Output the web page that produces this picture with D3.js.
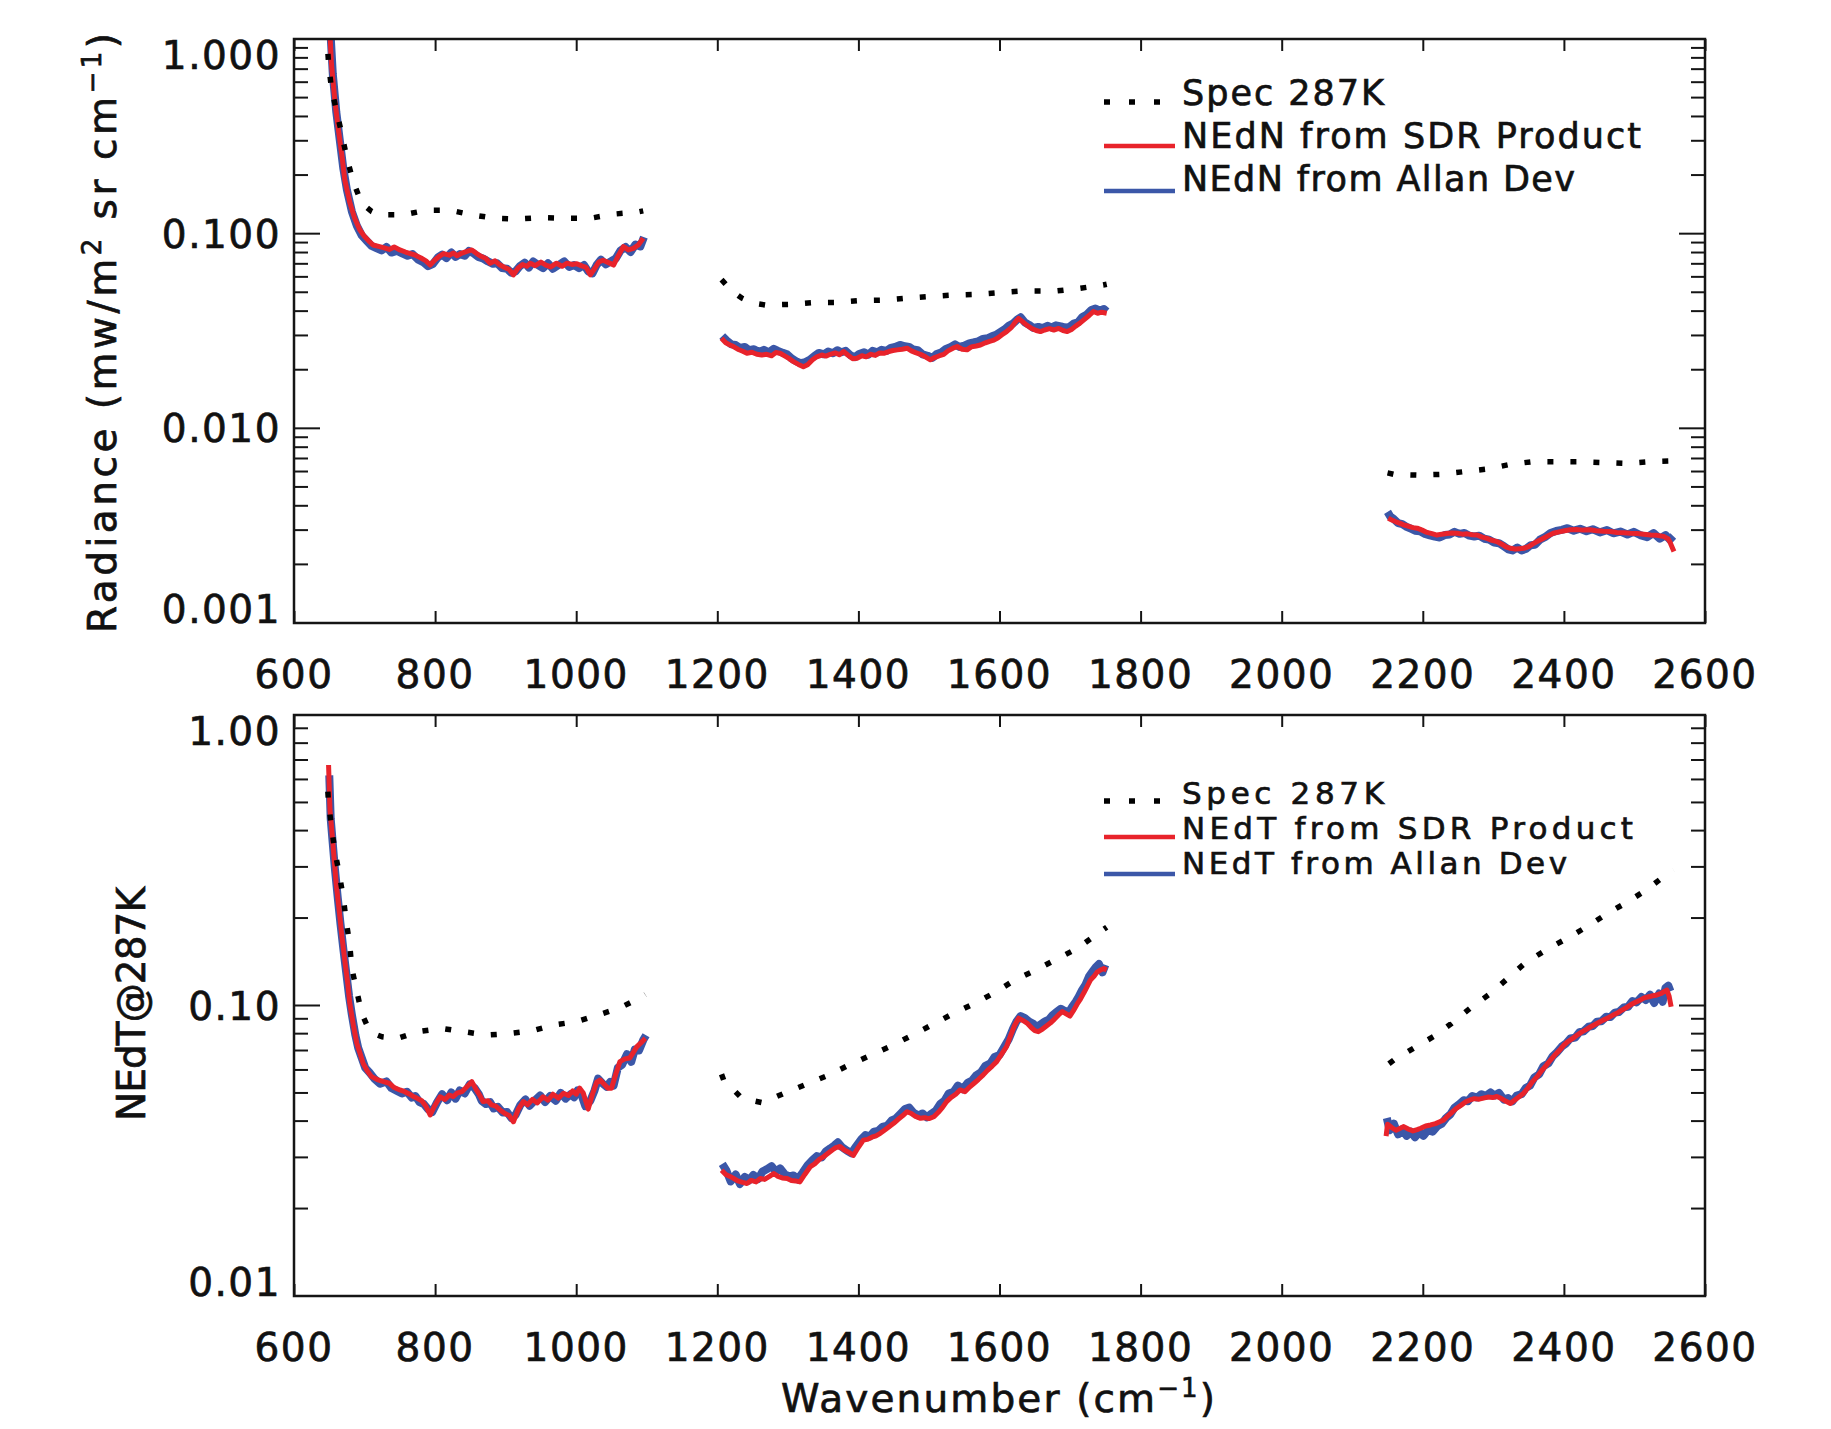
<!DOCTYPE html>
<html>
<head>
<meta charset="utf-8">
<script src="https://cdn.jsdelivr.net/npm/d3@7"></script>
<style>
  body { margin: 0; background: #fff; }
  svg { display: block; }
  text { font-family: "DejaVu Sans", sans-serif; fill: #111; stroke: #111; stroke-width: 0.7px; }
</style>
</head>
<body>
<svg id="chart" width="1831" height="1429"></svg>
<script>
// ---- Axis ticks and labels ----
const wavenumberTicks = [600, 800, 1000, 1200, 1400, 1600, 1800, 2000, 2200, 2400, 2600];
const radianceTicks = [0.001, 0.01, 0.1, 1];
const radianceTickLabels = ["0.001", "0.010", "0.100", "1.000"];
const nedtTicks = [0.01, 0.1, 1];
const nedtTickLabels = ["0.01", "0.10", "1.00"];
const radianceLegend = ["Spec 287K", "NEdN from SDR Product", "NEdN from Allan Dev"];
const nedtLegend = ["Spec 287K", "NEdT from SDR Product", "NEdT from Allan Dev"];

// ---- Radiance noise (mw/m^2 sr cm^-1) vs wavenumber; [wn, null] splits the bands ----
const radianceSpec = [
  [646,1.1],[649,0.75],[653,0.558],[660,0.432],[668,0.321],[675,0.244],[684,0.185],[696,0.143],[710,0.13],
  [720,0.125],[755,0.125],[788,0.132],[821,0.132],[852,0.125],[885,0.12],[918,0.119],[951,0.121],[984,0.12],
  [1020,0.12],[1053,0.126],[1086,0.129],[1095,0.131],[1150,null],
  [1206,0.058],[1220,0.051],[1235,0.0466],[1250,0.044],[1268,0.043],[1301,0.0433],[1334,0.0442],[1367,0.0443],
  [1400,0.0453],[1433,0.0455],[1466,0.0466],[1499,0.0475],[1535,0.0484],[1568,0.0488],[1601,0.0498],[1634,0.0508],
  [1667,0.0508],[1681,0.0508],[1714,0.0524],[1747,0.0545],[1752,0.055],[1950,null],
  [2150,0.0059],[2159,0.0058],[2192,0.00575],[2225,0.0058],[2260,0.006],[2291,0.00618],[2324,0.00653],[2355,0.00674],
  [2388,0.00674],[2421,0.00674],[2457,0.00667],[2490,0.0066],[2523,0.00674],[2555,0.0068]
];
const radianceSdr = [
  [650,1.25],[653,0.75],[658,0.48],[663,0.341],[668,0.25],[672,0.189],[679,0.145],[686,0.12],[693,0.105],[700,0.0966],
  [707,0.091],[712,0.0875],[720,0.086],[728,0.0845],[735,0.083],[742,0.0855],[750,0.0825],[758,0.0805],[765,0.079],
  [772,0.0775],[780,0.075],[787,0.0725],[793,0.069],[800,0.0735],[807,0.077],[812,0.079],[820,0.0775],[826,0.0795],
  [831,0.077],[838,0.0795],[845,0.081],[852,0.0825],[858,0.0795],[865,0.0765],[872,0.0745],[878,0.0705],[885,0.0725],
  [892,0.069],[898,0.0672],[905,0.0655],[911,0.0614],[917,0.0662],[924,0.0695],[930,0.068],[935,0.0705],[942,0.0685],
  [950,0.0715],[957,0.069],[964,0.0675],[972,0.0705],[980,0.068],[987,0.0705],[994,0.0695],[1001,0.07],[1008,0.0683],
  [1014,0.0672],[1020,0.0614],[1026,0.066],[1032,0.0715],[1038,0.073],[1045,0.0712],[1053,0.069],[1060,0.0775],
  [1067,0.0858],[1074,0.0825],[1081,0.084],[1088,0.0875],[1095,0.0947],[1150,null],
  [1206,0.029],[1212,0.0275],[1218,0.0268],[1223,0.0263],[1229,0.0255],[1236,0.0249],[1242,0.0243],[1249,0.0246],
  [1256,0.024],[1263,0.0238],[1270,0.024],[1277,0.0236],[1283,0.0245],[1289,0.0243],[1296,0.0235],[1302,0.0228],
  [1308,0.022],[1315,0.0213],[1322,0.0207],[1328,0.0212],[1335,0.0225],[1341,0.0233],[1348,0.0238],[1354,0.0235],
  [1360,0.024],[1367,0.0244],[1373,0.0239],[1379,0.0248],[1385,0.0238],[1392,0.0228],[1398,0.0229],[1405,0.0236],
  [1411,0.0233],[1417,0.024],[1424,0.0237],[1430,0.0244],[1436,0.0243],[1443,0.0248],[1449,0.0251],[1455,0.0253],
  [1462,0.0255],[1469,0.0258],[1475,0.025],[1481,0.0245],[1488,0.024],[1495,0.0233],[1502,0.0225],[1508,0.0231],
  [1515,0.0236],[1521,0.024],[1527,0.025],[1534,0.0258],[1540,0.0263],[1547,0.0255],[1554,0.0253],[1560,0.0262],
  [1567,0.0265],[1573,0.0268],[1580,0.0275],[1586,0.028],[1592,0.0284],[1598,0.0292],[1604,0.0303],[1610,0.0314],
  [1617,0.033],[1622,0.035],[1627,0.0367],[1633,0.0352],[1639,0.0338],[1645,0.0327],[1652,0.0318],[1658,0.0314],
  [1664,0.032],[1671,0.0325],[1677,0.032],[1684,0.0326],[1690,0.0318],[1696,0.0314],[1702,0.0322],[1708,0.0335],
  [1714,0.0347],[1720,0.0362],[1727,0.038],[1733,0.0398],[1739,0.039],[1745,0.0395],[1752,0.039],[1950,null],
  [2151,0.00345],[2156,0.00338],[2162,0.00331],[2168,0.00325],[2174,0.00318],[2180,0.00314],[2186,0.00309],
  [2192,0.00307],[2199,0.003],[2206,0.00292],[2213,0.00288],[2220,0.00283],[2227,0.00286],[2234,0.00288],[2241,0.0029],
  [2249,0.00289],[2256,0.00286],[2263,0.00287],[2270,0.00284],[2277,0.00283],[2284,0.00276],[2291,0.00272],
  [2298,0.00266],[2305,0.00262],[2312,0.00254],[2318,0.00246],[2324,0.00242],[2331,0.0024],[2337,0.00241],
  [2343,0.00242],[2350,0.00247],[2356,0.00255],[2362,0.00262],[2369,0.0027],[2377,0.0028],[2385,0.00289],
  [2393,0.00294],[2401,0.00298],[2409,0.00301],[2418,0.00302],[2427,0.003],[2437,0.00301],[2446,0.00298],
  [2456,0.00296],[2466,0.00295],[2475,0.00292],[2485,0.00291],[2494,0.00289],[2504,0.00288],[2513,0.00286],
  [2523,0.00283],[2532,0.00282],[2542,0.00278],[2548,0.0027],[2551,0.00257],[2556,0.00233]
];
const radianceAllan = [
  [651,1.2],[655,0.66],[660,0.42],[665,0.3],[670,0.215],[675,0.168],[682,0.13],[689,0.11],[696,0.098],[703,0.092],
  [710,0.0865],[716,0.0845],[724,0.082],[731,0.0855],[738,0.08],[746,0.0815],[754,0.079],[761,0.077],[768,0.0785],
  [776,0.0735],[783,0.0715],[790,0.068],[797,0.07],[804,0.0755],[810,0.078],[816,0.075],[823,0.08],[829,0.076],
  [835,0.0785],[842,0.077],[848,0.0815],[855,0.079],[861,0.076],[868,0.0745],[875,0.072],[882,0.07],[888,0.0705],
  [895,0.0665],[902,0.066],[908,0.063],[914,0.064],[920,0.068],[927,0.071],[933,0.067],[939,0.072],[946,0.069],
  [953,0.0665],[960,0.0705],[967,0.066],[975,0.069],[983,0.072],[990,0.0675],[997,0.069],[1004,0.0665],[1011,0.069],
  [1017,0.064],[1023,0.0625],[1029,0.069],[1035,0.0735],[1042,0.0695],[1049,0.072],[1056,0.0745],[1063,0.082],
  [1070,0.0855],[1077,0.0805],[1084,0.088],[1091,0.086],[1096,0.096],[1150,null],
  [1207,0.0298],[1213,0.0283],[1220,0.027],[1226,0.0268],[1232,0.0259],[1239,0.0262],[1245,0.0252],[1252,0.0255],
  [1259,0.0247],[1266,0.0253],[1273,0.0246],[1280,0.0256],[1286,0.025],[1293,0.0244],[1299,0.024],[1305,0.0229],
  [1312,0.0221],[1318,0.0216],[1325,0.0219],[1331,0.0225],[1338,0.0236],[1344,0.0244],[1351,0.024],[1357,0.0248],
  [1364,0.0243],[1370,0.0252],[1376,0.0246],[1382,0.025],[1389,0.0237],[1395,0.0232],[1401,0.0241],[1408,0.0246],
  [1414,0.0239],[1420,0.025],[1427,0.0246],[1433,0.0253],[1440,0.025],[1446,0.0259],[1452,0.0262],[1459,0.0268],
  [1466,0.0264],[1472,0.0262],[1478,0.0254],[1484,0.0252],[1491,0.024],[1498,0.0236],[1505,0.023],[1511,0.0241],
  [1518,0.0246],[1524,0.0256],[1531,0.0262],[1537,0.027],[1543,0.0262],[1550,0.0266],[1557,0.0273],[1563,0.0276],
  [1570,0.028],[1576,0.0288],[1583,0.029],[1589,0.0297],[1595,0.0302],[1601,0.0312],[1607,0.0322],[1613,0.0336],
  [1619,0.0345],[1625,0.0362],[1630,0.0372],[1636,0.035],[1642,0.034],[1648,0.0328],[1655,0.0332],[1661,0.0327],
  [1668,0.0336],[1674,0.033],[1680,0.0338],[1687,0.0334],[1693,0.0329],[1699,0.0332],[1705,0.0345],[1711,0.035],
  [1717,0.0372],[1724,0.0385],[1730,0.0405],[1736,0.0412],[1742,0.0402],[1748,0.041],[1752,0.0398],[1950,null],
  [2150,0.00372],[2154,0.00352],[2159,0.00342],[2165,0.00326],[2171,0.00322],[2177,0.00312],[2183,0.00305],
  [2189,0.00298],[2196,0.00296],[2203,0.00287],[2210,0.00282],[2217,0.00278],[2224,0.00275],[2231,0.00283],
  [2238,0.00285],[2245,0.00294],[2252,0.00287],[2259,0.0029],[2266,0.00281],[2273,0.00278],[2280,0.00281],
  [2287,0.00271],[2294,0.00268],[2301,0.00259],[2308,0.00257],[2315,0.00248],[2321,0.00239],[2327,0.00236],
  [2334,0.00244],[2340,0.00236],[2346,0.0024],[2353,0.00251],[2359,0.00252],[2366,0.00268],[2373,0.00276],
  [2381,0.0029],[2389,0.00297],[2397,0.00301],[2405,0.00307],[2414,0.00298],[2423,0.00305],[2432,0.00296],
  [2441,0.00303],[2451,0.00292],[2461,0.003],[2470,0.00289],[2480,0.00295],[2490,0.00285],[2499,0.00294],
  [2508,0.00283],[2518,0.00276],[2527,0.0029],[2536,0.00271],[2544,0.00283],[2550,0.00268],[2555,0.0028]
];

// ---- NEdT at 287 K (K) vs wavenumber ----
const nedtSpec = [
  [648,0.545],[649,0.497],[653,0.413],[658,0.339],[664,0.285],[670,0.234],[674,0.195],[679,0.162],[682,0.134],
  [689,0.112],[696,0.094],[704,0.085],[712,0.0802],[725,0.078],[746,0.077],[776,0.0813],[809,0.0834],[840,0.0813],
  [873,0.0791],[904,0.08],[937,0.0818],[968,0.0857],[1001,0.088],[1031,0.0927],[1062,0.0982],[1093,0.107],
  [1098,0.109],[1150,null],
  [1206,0.058],[1209,0.0554],[1235,0.0479],[1264,0.0463],[1295,0.0499],[1324,0.0533],[1355,0.0572],[1385,0.0621],
  [1416,0.0672],[1447,0.0727],[1475,0.0787],[1506,0.0862],[1535,0.094],[1565,0.1018],[1594,0.111],[1622,0.1225],
  [1653,0.133],[1681,0.1445],[1710,0.157],[1738,0.176],[1752,0.186],[1950,null],
  [2152,0.063],[2159,0.0649],[2187,0.0713],[2215,0.0781],[2241,0.0869],[2267,0.0978],[2296,0.11],[2322,0.125],
  [2345,0.14],[2374,0.155],[2404,0.17],[2433,0.187],[2461,0.207],[2490,0.227],[2518,0.251],[2544,0.281],[2555,0.293]
];
const nedtSdr = [
  [649,0.673],[651,0.471],[654,0.39],[657,0.317],[660,0.26],[664,0.213],[668,0.172],[672,0.143],[676,0.12],[679,0.102],
  [684,0.086],[689,0.0741],[694,0.068],[698,0.0632],[704,0.0595],[710,0.0569],[718,0.0556],[727,0.0547],[735,0.054],
  [742,0.0522],[750,0.0512],[757,0.0505],[764,0.0495],[770,0.0485],[774,0.048],[781,0.047],[787,0.045],[793,0.042],
  [799,0.045],[807,0.0485],[814,0.0475],[820,0.0492],[826,0.0486],[831,0.0499],[838,0.0505],[845,0.0525],[852,0.0547],
  [859,0.051],[864,0.0488],[868,0.0467],[875,0.047],[880,0.0455],[886,0.045],[892,0.0437],[899,0.0425],[905,0.0418],
  [911,0.0398],[918,0.044],[925,0.0467],[931,0.0455],[938,0.0475],[945,0.0462],[953,0.0485],[960,0.0472],[967,0.0495],
  [975,0.048],[982,0.0499],[989,0.049],[995,0.0508],[1000,0.0495],[1005,0.0519],[1010,0.05],[1017,0.044],[1023,0.0495],
  [1029,0.0545],[1034,0.0554],[1040,0.0535],[1045,0.0519],[1050,0.0519],[1056,0.058],[1062,0.0641],[1069,0.0655],
  [1076,0.066],[1081,0.069],[1086,0.0722],[1092,0.0745],[1098,0.0771],[1150,null],
  [1206,0.0271],[1212,0.0262],[1218,0.0258],[1223,0.0254],[1229,0.0249],[1236,0.0246],[1242,0.0244],[1248,0.025],
  [1255,0.0247],[1261,0.0254],[1267,0.0252],[1274,0.0258],[1280,0.0264],[1286,0.0258],[1292,0.0255],[1299,0.0254],
  [1305,0.025],[1311,0.0249],[1317,0.0247],[1324,0.0262],[1332,0.0279],[1338,0.0285],[1345,0.0296],[1351,0.0302],
  [1357,0.031],[1363,0.0318],[1368,0.0324],[1374,0.0327],[1380,0.0318],[1387,0.0312],[1393,0.0305],[1400,0.0325],
  [1407,0.0344],[1413,0.0346],[1419,0.0352],[1425,0.0356],[1431,0.0363],[1437,0.0372],[1444,0.0383],[1450,0.0393],
  [1456,0.0405],[1463,0.0418],[1469,0.0431],[1475,0.0425],[1481,0.0415],[1488,0.0409],[1494,0.0411],[1500,0.0408],
  [1507,0.0414],[1513,0.0428],[1519,0.0445],[1525,0.0467],[1531,0.0482],[1538,0.0495],[1544,0.0512],[1551,0.0505],
  [1558,0.0525],[1564,0.054],[1570,0.0556],[1577,0.0577],[1583,0.0598],[1590,0.062],[1596,0.0641],[1603,0.068],
  [1610,0.0722],[1616,0.079],[1621,0.085],[1627,0.0904],[1633,0.0888],[1639,0.087],[1645,0.084],[1650,0.082],
  [1655,0.0813],[1661,0.083],[1667,0.0852],[1672,0.087],[1678,0.0898],[1684,0.093],[1689,0.0953],[1695,0.0935],
  [1700,0.092],[1705,0.0962],[1710,0.101],[1714,0.1045],[1720,0.111],[1724,0.116],[1729,0.1225],[1734,0.126],
  [1738,0.13],[1743,0.1325],[1748,0.134],[1752,0.1325],[1950,null],
  [2148,0.0355],[2150,0.039],[2156,0.038],[2162,0.0372],[2168,0.0378],[2173,0.0383],[2180,0.0375],[2186,0.037],
  [2192,0.0374],[2197,0.0378],[2204,0.0385],[2211,0.0388],[2218,0.0392],[2224,0.0398],[2230,0.0404],[2236,0.0418],
  [2242,0.043],[2248,0.0443],[2255,0.0455],[2261,0.0466],[2267,0.0473],[2273,0.0478],[2280,0.0476],[2286,0.048],
  [2292,0.0484],[2299,0.0482],[2305,0.0486],[2311,0.0479],[2318,0.0468],[2324,0.046],[2330,0.0472],[2337,0.0486],
  [2343,0.0499],[2349,0.052],[2355,0.0545],[2362,0.0569],[2368,0.0595],[2375,0.0622],[2381,0.0649],[2387,0.0675],
  [2394,0.0702],[2400,0.0731],[2406,0.0752],[2413,0.0772],[2419,0.0791],[2425,0.081],[2432,0.0828],[2438,0.0845],
  [2444,0.086],[2450,0.0876],[2456,0.0891],[2463,0.0908],[2469,0.0925],[2475,0.094],[2481,0.096],[2488,0.0982],
  [2494,0.1004],[2500,0.1022],[2507,0.104],[2513,0.106],[2519,0.107],[2526,0.108],[2532,0.1087],[2538,0.11],
  [2543,0.112],[2546,0.113],[2549,0.108],[2552,0.099]
];
const nedtAllan = [
  [650,0.62],[652,0.44],[655,0.36],[658,0.295],[662,0.235],[666,0.19],[670,0.156],[674,0.13],[678,0.108],[682,0.093],
  [687,0.079],[691,0.0715],[696,0.066],[701,0.061],[707,0.0588],[714,0.056],[722,0.0538],[731,0.0548],[738,0.052],
  [746,0.0508],[753,0.0498],[760,0.0505],[767,0.0482],[772,0.0488],[778,0.0465],[784,0.0458],[790,0.044],[796,0.043],
  [803,0.0465],[810,0.0495],[817,0.0472],[823,0.0502],[829,0.0478],[835,0.051],[842,0.0498],[849,0.0535],[856,0.052],
  [862,0.0495],[866,0.047],[872,0.0458],[878,0.0465],[883,0.0442],[889,0.0448],[896,0.0428],[902,0.043],[908,0.041],
  [914,0.042],[921,0.0455],[928,0.0475],[934,0.0452],[941,0.047],[949,0.049],[956,0.0465],[963,0.0488],[971,0.047],
  [978,0.05],[985,0.0478],[992,0.0495],[997,0.0483],[1002,0.051],[1008,0.0488],[1013,0.045],[1020,0.047],[1026,0.051],
  [1031,0.056],[1037,0.054],[1043,0.0525],[1048,0.0545],[1053,0.053],[1059,0.061],[1065,0.0625],[1072,0.068],
  [1078,0.064],[1083,0.0705],[1089,0.07],[1095,0.076],[1099,0.079],[1150,null],
  [1207,0.0285],[1213,0.027],[1219,0.0248],[1226,0.0262],[1232,0.0243],[1239,0.0257],[1245,0.025],[1251,0.0261],
  [1258,0.0253],[1264,0.0268],[1270,0.0273],[1277,0.028],[1283,0.0268],[1289,0.0275],[1296,0.0262],[1302,0.0258],
  [1308,0.026],[1314,0.0252],[1321,0.0266],[1328,0.0282],[1335,0.0294],[1341,0.0303],[1348,0.03],[1354,0.0315],
  [1360,0.0322],[1366,0.033],[1371,0.0338],[1377,0.0325],[1384,0.0316],[1390,0.031],[1397,0.0328],[1404,0.0346],
  [1410,0.0358],[1416,0.0354],[1422,0.0368],[1428,0.037],[1434,0.0382],[1441,0.0386],[1447,0.0402],[1453,0.0408],
  [1460,0.0425],[1466,0.044],[1472,0.0445],[1478,0.0428],[1485,0.0418],[1491,0.0425],[1497,0.0412],[1504,0.0425],
  [1510,0.0435],[1516,0.0458],[1522,0.047],[1528,0.0498],[1535,0.0505],[1541,0.053],[1548,0.0515],[1555,0.0542],
  [1561,0.0552],[1567,0.0575],[1574,0.059],[1580,0.062],[1587,0.0632],[1593,0.0665],[1600,0.0675],[1606,0.0715],
  [1613,0.0765],[1619,0.083],[1624,0.088],[1630,0.092],[1636,0.0905],[1642,0.088],[1648,0.0865],[1653,0.0842],
  [1658,0.086],[1664,0.088],[1670,0.0895],[1675,0.0925],[1681,0.095],[1687,0.0975],[1692,0.096],[1698,0.0945],
  [1703,0.099],[1708,0.103],[1712,0.107],[1717,0.113],[1722,0.118],[1727,0.126],[1732,0.131],[1736,0.135],
  [1741,0.139],[1746,0.13],[1750,0.138],[1950,null],
  [2149,0.041],[2153,0.0372],[2159,0.0392],[2165,0.036],[2171,0.0375],[2177,0.0356],[2183,0.0368],[2189,0.0352],
  [2195,0.0366],[2201,0.0356],[2207,0.0372],[2214,0.0368],[2221,0.0385],[2227,0.0392],[2233,0.041],[2239,0.0422],
  [2245,0.0445],[2252,0.0458],[2258,0.0472],[2264,0.0468],[2270,0.0488],[2277,0.0482],[2283,0.0495],[2289,0.0488],
  [2296,0.0502],[2302,0.049],[2308,0.05],[2315,0.0474],[2321,0.048],[2327,0.0468],[2333,0.049],[2340,0.0495],
  [2346,0.052],[2352,0.053],[2358,0.0565],[2365,0.058],[2371,0.0618],[2378,0.0632],[2384,0.0668],[2390,0.069],
  [2397,0.0722],[2403,0.074],[2409,0.077],[2416,0.0775],[2422,0.081],[2428,0.0815],[2435,0.0845],[2441,0.085],
  [2447,0.088],[2453,0.0882],[2460,0.0915],[2466,0.0912],[2472,0.0945],[2478,0.095],[2485,0.0985],[2491,0.099],
  [2497,0.1035],[2503,0.1025],[2510,0.107],[2516,0.1045],[2522,0.109],[2528,0.102],[2535,0.11],[2540,0.103],
  [2544,0.115],[2548,0.117],[2551,0.112]
];

// ---- Layout ----
const svg = d3.select("#chart");
const plotLeft = 294, plotRight = 1705;
const RED = "#e8232b", BLUE = "#3b57a8", INK = "#151515";

const x = d3.scaleLinear().domain([600, 2600]).range([plotLeft, plotRight]);

function drawPanel(p) {
  const y = d3.scaleLog().domain(p.domain).range([p.bottom, p.top]);
  const g = svg.append("g");
  const clipId = "clip-" + p.id;
  svg.append("clipPath").attr("id", clipId)
    .append("rect").attr("x", plotLeft).attr("y", p.top)
    .attr("width", plotRight - plotLeft).attr("height", p.bottom - p.top);

  const line = d3.line()
    .defined(d => d[1] != null)
    .x(d => x(d[0])).y(d => y(d[1]));

  const series = g.append("g").attr("clip-path", `url(#${clipId})`);
  series.append("path").datum(p.allan).attr("d", line)
    .attr("fill", "none").attr("stroke", BLUE).attr("stroke-width", 8).attr("stroke-linejoin", "round");
  series.append("path").datum(p.sdr).attr("d", line)
    .attr("fill", "none").attr("stroke", RED).attr("stroke-width", 5).attr("stroke-linejoin", "round");
  series.append("path").datum(p.spec).attr("d", line)
    .attr("fill", "none").attr("stroke", "#000").attr("stroke-width", 5.5)
    .attr("stroke-dasharray", "6 17");

  // Frame
  g.append("rect").attr("x", plotLeft).attr("y", p.top)
    .attr("width", plotRight - plotLeft).attr("height", p.bottom - p.top)
    .attr("fill", "none").attr("stroke", INK).attr("stroke-width", 2.5);

  // Wavenumber ticks (inward, bottom and top)
  g.append("g").attr("transform", `translate(0,${p.bottom})`)
    .call(d3.axisBottom(x).tickValues(wavenumberTicks).tickSize(-12).tickFormat(""))
    .call(a => a.select(".domain").remove())
    .selectAll("line").attr("stroke", INK).attr("stroke-width", 2);
  g.append("g").attr("transform", `translate(0,${p.top})`)
    .call(d3.axisTop(x).tickValues(wavenumberTicks).tickSize(-12).tickFormat(""))
    .call(a => a.select(".domain").remove())
    .selectAll("line").attr("stroke", INK).attr("stroke-width", 2);

  // Log ticks on both vertical sides
  const [lo, hi] = p.domain;
  const minor = [];
  for (let dec = lo; dec < hi * 0.999; dec *= 10) {
    for (let k = 2; k <= 9; k++) minor.push(dec * k);
  }
  const sides = [{x0: plotLeft, dir: 1}, {x0: plotRight, dir: -1}];
  sides.forEach(s => {
    g.selectAll(null).data(p.ticks).enter().append("line")
      .attr("x1", s.x0).attr("x2", s.x0 + s.dir * 26)
      .attr("y1", d => y(d)).attr("y2", d => y(d))
      .attr("stroke", INK).attr("stroke-width", 2);
    g.selectAll(null).data(minor).enter().append("line")
      .attr("x1", s.x0).attr("x2", s.x0 + s.dir * 14)
      .attr("y1", d => y(d)).attr("y2", d => y(d))
      .attr("stroke", INK).attr("stroke-width", 2);
  });

  // Tick labels
  g.selectAll(null).data(wavenumberTicks).enter().append("text")
    .attr("x", d => x(d)).attr("y", p.bottom + 65)
    .attr("text-anchor", "middle").attr("font-size", 39).attr("letter-spacing", 1.5)
    .text(d => d);
  g.selectAll(null).data(p.ticks).enter().append("text")
    .attr("x", 281)
    .attr("y", d => Math.max(p.top + 16, Math.min(p.bottom - 14, y(d))) + 14)
    .attr("text-anchor", "end").attr("font-size", 39).attr("letter-spacing", 1.5)
    .text((d, i) => p.tickLabels[i]);

  // Legend
  const lg = g.append("g");
  const rows = p.legend;
  lg.append("line").attr("x1", 1104).attr("x2", 1162)
    .attr("y1", p.legendY[0] - 3).attr("y2", p.legendY[0] - 3)
    .attr("stroke", "#000").attr("stroke-width", 5.5).attr("stroke-dasharray", "6 19");
  lg.append("line").attr("x1", 1104).attr("x2", 1175)
    .attr("y1", p.legendY[1] - 2).attr("y2", p.legendY[1] - 2)
    .attr("stroke", RED).attr("stroke-width", 4.5);
  lg.append("line").attr("x1", 1104).attr("x2", 1175)
    .attr("y1", p.legendY[2]).attr("y2", p.legendY[2])
    .attr("stroke", BLUE).attr("stroke-width", 4.5);
  lg.selectAll(null).data(rows).enter().append("text")
    .attr("x", 1182).attr("y", (d, i) => p.legendY[i])
    .attr("font-size", p.legendSize)
    .attr("textLength", (d, i) => p.legendWidths[i]).attr("lengthAdjust", "spacing")
    .text(d => d);
}

drawPanel({
  id: "radiance", top: 39, bottom: 623, domain: [0.001, 1],
  ticks: radianceTicks, tickLabels: radianceTickLabels,
  spec: radianceSpec, sdr: radianceSdr, allan: radianceAllan,
  legend: radianceLegend, legendY: [105, 148, 191], legendWidths: [202, 459, 393], legendSize: 35
});
drawPanel({
  id: "nedt", top: 715, bottom: 1296, domain: [0.01, 1],
  ticks: nedtTicks, tickLabels: nedtTickLabels,
  spec: nedtSpec, sdr: nedtSdr, allan: nedtAllan,
  legend: nedtLegend, legendY: [804, 839, 874], legendWidths: [202, 451, 385], legendSize: 31
});

// Axis titles
const radTitle = svg.append("text")
  .attr("transform", "translate(116,333) rotate(-90)")
  .attr("text-anchor", "middle").attr("font-size", 39)
  .attr("textLength", 600).attr("lengthAdjust", "spacing");
radTitle.append("tspan").text("Radiance (mw/m");
radTitle.append("tspan").attr("dy", -15).attr("font-size", 26).text("2");
radTitle.append("tspan").attr("dy", 15).text(" sr cm");
radTitle.append("tspan").attr("dy", -15).attr("font-size", 26).text("−1");
radTitle.append("tspan").attr("dy", 15).text(")");

svg.append("text")
  .attr("transform", "translate(145,1004) rotate(-90)")
  .attr("text-anchor", "middle").attr("font-size", 39)
  .attr("textLength", 234).attr("lengthAdjust", "spacing")
  .text("NEdT@287K");

const wnTitle = svg.append("text")
  .attr("x", 998).attr("y", 1412)
  .attr("text-anchor", "middle").attr("font-size", 39)
  .attr("textLength", 434).attr("lengthAdjust", "spacing");
wnTitle.append("tspan").text("Wavenumber (cm");
wnTitle.append("tspan").attr("dy", -15).attr("font-size", 26).text("−1");
wnTitle.append("tspan").attr("dy", 15).text(")");
</script>
</body>
</html>
